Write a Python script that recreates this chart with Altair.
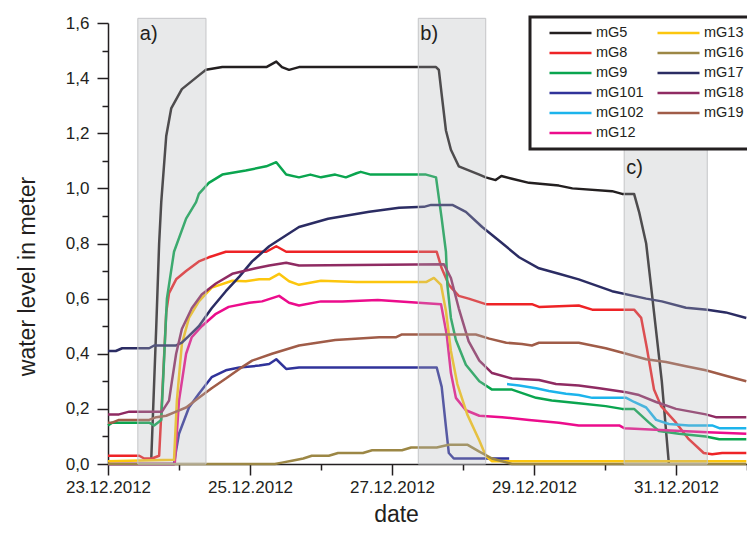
import altair as alt
import pandas as pd

BASE = pd.Timestamp("2012-12-23 00:00:00")

legend_order = ["mG5", "mG8", "mG9", "mG101", "mG102", "mG12", "mG13", "mG16", "mG17", "mG18", "mG19"]
legend_colors = ["#231f20", "#ee2326", "#0aa54f", "#30339a", "#1cb4ec", "#ec0c8c",
                 "#fcc60e", "#9c8745", "#2b2c63", "#8f2b62", "#a05c48"]

# time in days after 23.12.2012 00:00, water level in m
mG5_days = [0.61, 0.68, 0.72, 0.75, 0.82, 0.89, 1.04, 1.28, 1.38, 1.61, 2.23, 2.37, 2.45, 2.55, 2.69, 3.0,
            4.62, 4.66, 4.70, 4.76, 4.83, 4.94, 5.23, 5.32, 5.46, 5.54, 5.69, 5.93, 6.35, 6.54, 7.10, 7.24,
            7.41, 7.48, 7.58, 7.66, 7.80, 7.90]
mG5_level = [0.02, 0.5, 0.8, 0.95, 1.19, 1.29, 1.36, 1.41, 1.43, 1.44, 1.44, 1.46, 1.44, 1.43, 1.44, 1.44,
             1.44, 1.43, 1.34, 1.21, 1.14, 1.08, 1.05, 1.04, 1.03, 1.045, 1.035, 1.02, 1.01, 1.00, 0.99, 0.98,
             0.98, 0.915, 0.80, 0.62, 0.30, 0.0]

mG8_days = [0, 0.44, 0.51, 0.62, 0.72, 0.76, 0.82, 0.86, 0.96, 1.10, 1.28, 1.42, 1.66, 2.23, 2.37, 2.51,
            4.63, 4.70, 4.80, 4.94, 5.08, 5.32, 5.97, 6.07, 6.63, 6.82, 7.41, 7.51, 7.59, 7.69, 7.79, 8.0,
            8.18, 8.39, 8.51, 8.65, 8.99]
mG8_level = [0.03, 0.03, 0.02, 0.02, 0.03, 0.23, 0.55, 0.62, 0.67, 0.70, 0.735, 0.75, 0.77, 0.77, 0.79, 0.77,
             0.77, 0.71, 0.65, 0.61, 0.60, 0.58, 0.58, 0.57, 0.575, 0.56, 0.56, 0.53, 0.42, 0.27, 0.21, 0.15,
             0.09, 0.04, 0.035, 0.04, 0.04]

mG9_days = [0, 0.06, 0.58, 0.65, 0.75, 0.83, 0.93, 1.10, 1.24, 1.28, 1.42, 1.61, 1.94, 2.23, 2.37, 2.51,
            2.69, 2.85, 3.0, 3.2, 3.35, 3.5, 3.56, 3.7, 4.48, 4.62, 4.70, 4.76, 4.78, 4.83, 4.90, 5.04,
            5.23, 5.41, 5.69, 6.03, 6.25, 6.63, 7.01, 7.24, 7.41, 7.62, 7.76, 8.04, 8.42, 8.61, 8.99]
mG9_level = [0.14, 0.15, 0.15, 0.14, 0.16, 0.60, 0.77, 0.89, 0.95, 0.98, 1.02, 1.05, 1.065, 1.08, 1.095, 1.05,
             1.04, 1.05, 1.04, 1.05, 1.04, 1.055, 1.06, 1.05, 1.05, 1.04, 0.89, 0.77, 0.65, 0.53, 0.45, 0.36,
             0.30, 0.27, 0.27, 0.24, 0.23, 0.22, 0.21, 0.20, 0.20, 0.15, 0.12, 0.11, 0.10, 0.09, 0.09]

mG101_days = [0, 0.93, 0.96, 1.0, 1.14, 1.28, 1.46, 1.66, 1.85, 2.13, 2.27, 2.37, 2.51, 2.69, 4.63, 4.70,
              4.76, 4.80, 4.87, 5.65]
mG101_level = [0, 0.0, 0.05, 0.11, 0.205, 0.255, 0.315, 0.34, 0.35, 0.357, 0.363, 0.38, 0.345, 0.35, 0.35, 0.28,
               0.135, 0.04, 0.02, 0.02]

mG102_days = [5.62, 5.79, 6.03, 6.21, 6.45, 6.63, 6.82, 7.30, 7.41, 7.58, 7.72, 7.90, 8.18, 8.51, 8.61, 8.99]
mG102_level = [0.29, 0.285, 0.275, 0.265, 0.255, 0.25, 0.24, 0.24, 0.225, 0.205, 0.16, 0.145, 0.14, 0.14, 0.13, 0.13]

mG12_days = [0, 0.94, 1.0, 1.10, 1.18, 1.32, 1.52, 1.70, 1.99, 2.17, 2.41, 2.55, 2.69, 3.0, 3.3, 3.8, 4.69,
             4.77, 4.83, 4.90, 5.04, 5.23, 5.55, 5.93, 6.35, 6.63, 7.20, 7.27, 8.44, 8.99]
mG12_level = [0.0, 0.0, 0.23, 0.40, 0.46, 0.50, 0.545, 0.57, 0.585, 0.59, 0.61, 0.585, 0.575, 0.59, 0.59, 0.595, 0.58,
              0.47, 0.33, 0.24, 0.195, 0.175, 0.17, 0.16, 0.15, 0.14, 0.14, 0.13, 0.115, 0.11]

mG13_days = [0, 0.93, 0.97, 1.04, 1.14, 1.28, 1.46, 1.75, 1.94, 2.13, 2.27, 2.41, 2.55, 2.69, 3.0, 3.5, 4.48,
             4.59, 4.69, 4.76, 4.83, 4.92, 5.06, 5.23, 5.32, 5.41, 8.99]
mG13_level = [0.01, 0.015, 0.23, 0.435, 0.53, 0.59, 0.64, 0.665, 0.663, 0.67, 0.67, 0.69, 0.663, 0.65, 0.665, 0.66, 0.66,
              0.675, 0.65, 0.555, 0.41, 0.29, 0.18, 0.085, 0.03, 0.01, 0.01]

mG16_days = [0, 2.35, 2.45, 2.59, 2.75, 2.87, 3.11, 3.24, 3.59, 3.72, 4.14, 4.27, 4.63, 4.80, 5.06, 5.23,
             5.41, 5.69, 8.99]
mG16_level = [0, 0, 0.005, 0.012, 0.02, 0.03, 0.03, 0.04, 0.04, 0.05, 0.05, 0.06, 0.06, 0.07, 0.07, 0.045,
              0.02, 0.0, 0.0]

mG17_days = [0, 0.11, 0.20, 0.58, 0.65, 0.96, 1.04, 1.14, 1.28, 1.46, 1.66, 1.85, 2.03, 2.27, 2.51, 2.69,
             3.1, 3.68, 4.10, 4.45, 4.55, 4.85, 5.04, 5.27, 5.51, 5.79, 6.07, 6.35, 6.63, 7.10, 7.58, 7.80,
             8.14, 8.44, 8.70, 8.99]
mG17_level = [0.41, 0.41, 0.42, 0.42, 0.43, 0.43, 0.44, 0.465, 0.50, 0.565, 0.627, 0.68, 0.735, 0.79, 0.83, 0.86,
              0.89, 0.915, 0.93, 0.933, 0.94, 0.94, 0.915, 0.86, 0.81, 0.75, 0.71, 0.69, 0.67, 0.627, 0.60, 0.59,
              0.567, 0.56, 0.55, 0.53]

mG18_days = [0, 0.155, 0.30, 0.76, 0.86, 0.90, 0.96, 1.04, 1.18, 1.32, 1.52, 1.75, 2.08, 2.27, 2.51, 2.69,
             4.73, 4.83, 4.94, 5.08, 5.23, 5.41, 5.69, 6.07, 6.31, 6.63, 6.92, 7.30, 7.48, 7.72, 8.0, 8.42,
             8.56, 8.99]
mG18_level = [0.18, 0.18, 0.19, 0.19, 0.23, 0.30, 0.40, 0.49, 0.565, 0.615, 0.655, 0.69, 0.71, 0.72, 0.73, 0.72,
              0.725, 0.675, 0.565, 0.445, 0.375, 0.33, 0.31, 0.305, 0.29, 0.285, 0.275, 0.26, 0.25, 0.225, 0.20, 0.18,
              0.17, 0.17]

mG19_days = [0, 0.06, 0.155, 0.58, 0.68, 0.82, 0.96, 1.10, 1.28, 1.46, 1.66, 1.85, 2.03, 2.31, 2.69, 3.2,
             3.82, 4.06, 4.14, 4.70, 5.18, 5.37, 5.61, 5.83, 5.97, 6.07, 6.63, 7.01, 7.30, 7.58, 7.86, 8.14,
             8.42, 8.70, 8.99]
mG19_level = [0.15, 0.15, 0.16, 0.16, 0.17, 0.175, 0.19, 0.205, 0.24, 0.275, 0.31, 0.345, 0.375, 0.40, 0.43, 0.45,
              0.46, 0.46, 0.47, 0.47, 0.47, 0.455, 0.44, 0.435, 0.43, 0.44, 0.44, 0.42, 0.40, 0.38, 0.37, 0.355,
              0.34, 0.32, 0.30]

# flood phases a), b), c)
phase_labels = ["a)", "b)", "c)"]
phase_start_days = [0.42, 4.37, 7.27]
phase_end_days = [1.38, 5.32, 8.44]
phase_label_level = [1.595, 1.595, 1.11]

series = {
    "mG5": (mG5_days, mG5_level), "mG8": (mG8_days, mG8_level), "mG9": (mG9_days, mG9_level),
    "mG101": (mG101_days, mG101_level), "mG102": (mG102_days, mG102_level), "mG12": (mG12_days, mG12_level),
    "mG13": (mG13_days, mG13_level), "mG16": (mG16_days, mG16_level), "mG17": (mG17_days, mG17_level),
    "mG18": (mG18_days, mG18_level), "mG19": (mG19_days, mG19_level),
}


def ts(d):
    return (BASE + pd.Timedelta(days=d)).round("min")


rows = []
for name, (days, levels) in series.items():
    for d, v in zip(days, levels):
        rows.append({"series": name, "time": ts(d), "level": v})
df = pd.DataFrame(rows)

phases = pd.DataFrame({
    "label": phase_labels,
    "start": [ts(d) for d in phase_start_days],
    "end": [ts(d) for d in phase_end_days],
    "label_level": phase_label_level,
})

FONT = "Liberation Sans"
INK = "#231f20"


def dt(y, m, d):
    return alt.DateTime(year=y, month=m, date=d)


x_domain = [dt(2012, 12, 23), dt(2013, 1, 1)]
major_dates = [dt(2012, 12, 23), dt(2012, 12, 25), dt(2012, 12, 27), dt(2012, 12, 29), dt(2012, 12, 31)]
minor_dates = [dt(2012, 12, 24), dt(2012, 12, 26), dt(2012, 12, 28), dt(2012, 12, 30), dt(2013, 1, 1)]
major_levels = [0.0, 0.2, 0.4, 0.6, 0.8, 1.0, 1.2, 1.4, 1.6]
minor_levels = [0.1, 0.3, 0.5, 0.7, 0.9, 1.1, 1.3, 1.5]

x_scale = alt.Scale(domain=x_domain)
y_scale = alt.Scale(domain=[0, 1.6], nice=False)

lines = alt.Chart(df).mark_line(strokeWidth=2.5, strokeJoin="round").encode(
    x=alt.X("time:T", scale=x_scale, axis=alt.Axis(
        orient="bottom", values=major_dates, format="%d.%m.%Y", tickSize=11, tickWidth=1.5,
        tickColor=INK, domainColor=INK, domainWidth=1.5, grid=False, labelFlush=False,
        labelOverlap=False, labelFont=FONT, labelFontSize=17, labelColor=INK, labelPadding=4,
        title="date", titleFont=FONT, titleFontSize=23, titleFontWeight="normal", titleColor=INK,
        titleX=288, titleY=50, titleBaseline="middle", titleAlign="center")),
    y=alt.Y("level:Q", scale=y_scale, axis=alt.Axis(
        orient="left", values=major_levels,
        labelExpr="replace(format(datum.value, '.1f'), '.', ',')",
        tickSize=11, tickWidth=1.5, tickColor=INK, domainColor=INK, domainWidth=1.5, grid=False,
        labelFlush=False, labelOverlap=False, labelFont=FONT, labelFontSize=17, labelColor=INK,
        labelPadding=8, title="water level in meter", titleFont=FONT, titleFontSize=23,
        titleFontWeight="normal", titleColor=INK, titleX=-81, titleY=253, titleBaseline="middle",
        titleAlign="center")),
    color=alt.Color("series:N", scale=alt.Scale(domain=legend_order, range=legend_colors),
                    sort=legend_order,
                    legend=alt.Legend(title=None, orient="none", legendX=422, legendY=-6, columns=2,
                                      symbolType="stroke", symbolSize=1764, symbolStrokeWidth=2.5,
                                      clipHeight=20, rowPadding=0, columnPadding=-22, padding=6,
                                      symbolOffset=12, labelOffset=3, labelFont=FONT, labelFontSize=14.5,
                                      labelColor=INK, fillColor="white", strokeColor=INK)),
)

minor = alt.Chart(df).mark_point(opacity=0).encode(
    x=alt.X("time:T", scale=x_scale, axis=alt.Axis(
        orient="bottom", values=minor_dates, tickSize=6, tickWidth=1.5, tickColor=INK,
        labels=False, domain=False, grid=False, title=None)),
    y=alt.Y("level:Q", scale=y_scale, axis=alt.Axis(
        orient="left", values=minor_levels, tickSize=6, tickWidth=1.5, tickColor=INK,
        labels=False, domain=False, grid=False, title=None)),
)

shade = alt.Chart(phases).mark_rect(fill="#b3b5b9", fillOpacity=0.3, stroke="#c4c5c7",
                                     strokeWidth=1).encode(
    x=alt.X("start:T", scale=x_scale, axis=None),
    x2="end:T",
    y=alt.YDatum(0, axis=None),
    y2=alt.datum(1.617),
)

labels = alt.Chart(phases).mark_text(align="left", baseline="top", dx=2, font=FONT, fontSize=20,
                                     color=INK).encode(
    x=alt.X("start:T", scale=x_scale, axis=None),
    y=alt.Y("label_level:Q", scale=y_scale, axis=None),
    text="label:N",
)

chart = alt.layer(lines, minor, shade, labels).resolve_axis(
    x="independent", y="independent"
).properties(
    width=639, height=441,
    padding={"left": 100, "top": 15, "right": 0, "bottom": 62},
    autosize=alt.AutoSizeParams(type="none"),
).configure_view(stroke=None).configure_legend(strokeWidth=3)

chart.save("out.html", embed_options={"renderer": "svg", "actions": False})
